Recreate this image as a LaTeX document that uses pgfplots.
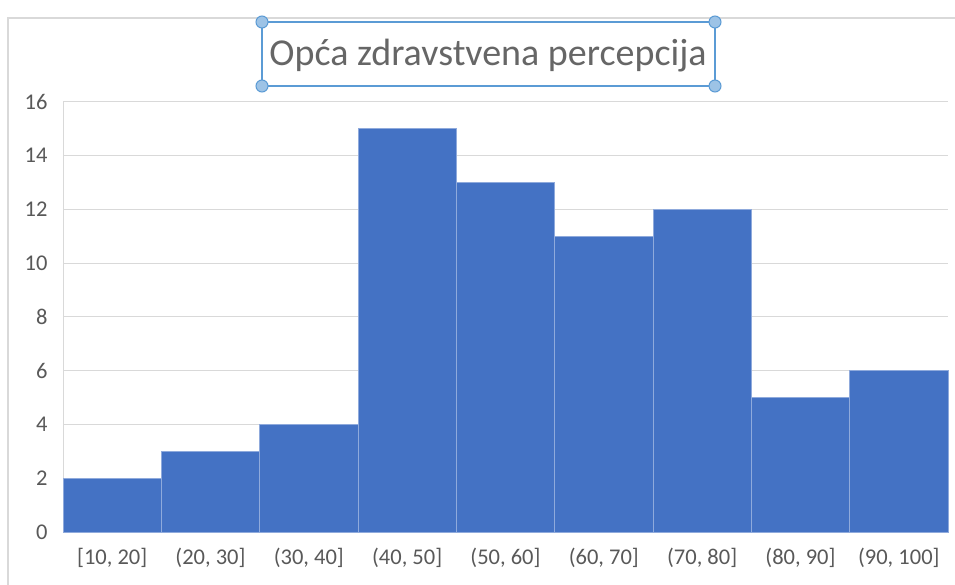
\documentclass[border=0pt]{standalone}
\usepackage{pgfplots}
\pgfplotsset{compat=1.18}
\usepackage{fontspec}
\setmainfont{Carlito}
\definecolor{barblue}{HTML}{4472C4}
\definecolor{baredge}{HTML}{8FAADC}
\definecolor{txt}{HTML}{595959}
\definecolor{titlec}{HTML}{666666}
\definecolor{gridc}{HTML}{D9D9D9}
\definecolor{sel}{HTML}{5B9BD5}
\definecolor{selfill}{HTML}{9DC3E6}
\begin{document}
\begin{tikzpicture}[x=1pt,y=1pt]
\path[use as bounding box, fill=white] (0,0) rectangle (955,584);
\draw[gridc, line width=1.5pt] (8,-5) -- (8,566) -- (960,566);
\begin{axis}[
  at={(63pt,52pt)}, anchor=south west,
  scale only axis, width=885pt, height=430pt,
  xmin=0, xmax=9, ymin=0, ymax=16,
  ytick={0,2,...,16},
  xtick={0.5,1.5,...,8.5},
  xticklabels={{[10, 20]},{(20, 30]},{(30, 40]},{(40, 50]},{(50, 60]},{(60, 70]},{(70, 80]},{(80, 90]},{(90, 100]}},
  ymajorgrids, grid style={gridc, line width=1pt},
  axis lines*=left, axis line style={gridc, line width=1pt},
  major tick length=0pt,
  tick label style={txt, font=\fontsize{22.5}{27}\selectfont},
  /pgf/number format/assume math mode=true,
  yticklabel style={anchor=east, xshift=-12pt},
  xticklabel style={anchor=north, yshift=-13pt},
  clip=false,
]
\addplot[ybar interval, fill=barblue, draw=baredge, line width=0.8pt]
  coordinates {(0,2) (1,3) (2,4) (3,15) (4,13) (5,11) (6,12) (7,5) (8,6) (9,6)};
\end{axis}
\node[titlec, font=\fontsize{38}{44}\selectfont] at (488,528) {Opća zdravstvena percepcija};
\draw[sel, line width=1.5pt] (262,562) rectangle (715,498);
\foreach \p in {(262,562),(715,562),(262,498),(715,498)}
  \filldraw[fill=selfill, draw=sel, line width=1pt] \p circle (6);
\end{tikzpicture}
\end{document}
